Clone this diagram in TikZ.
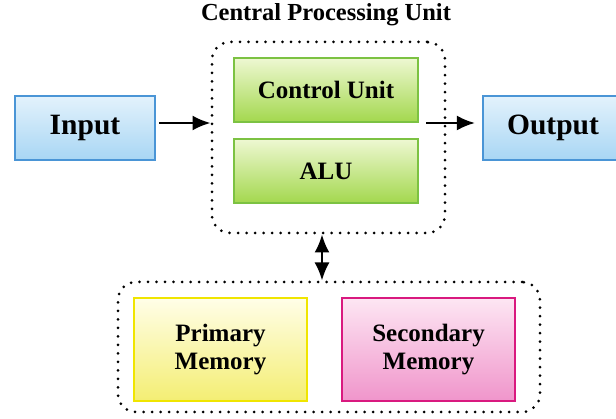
\documentclass[tikz,border=0pt]{standalone}
\usepackage{xcolor}
\usepackage{fontspec}
\setmainfont{Liberation Serif}
\usepackage{tikz}
\usetikzlibrary{arrows.meta}

\definecolor{blueTop}{HTML}{E3F2FC}
\definecolor{blueBot}{HTML}{A8D6F4}
\definecolor{blueLine}{HTML}{4A95D6}
\definecolor{greenTop}{HTML}{EEF8D2}
\definecolor{greenBot}{HTML}{A3D84E}
\definecolor{greenLine}{HTML}{7CC242}
\definecolor{yellowTop}{HTML}{FFFEE8}
\definecolor{yellowBot}{HTML}{F4EE73}
\definecolor{yellowLine}{HTML}{F0E500}
\definecolor{pinkTop}{HTML}{FDE6F3}
\definecolor{pinkBot}{HTML}{F095CB}
\definecolor{pinkLine}{HTML}{D9197F}

\tikzset{
  unitbox/.style={draw=#1Line,line width=2.2pt,top color=#1Top,bottom color=#1Bot,
    inner sep=0pt,font=\bfseries\fontsize{25}{27.5}\selectfont,align=center},
  groupbox/.style={draw,line width=3pt,line cap=round,dash pattern=on 0pt off 8.5pt,
    rounded corners=18pt,inner sep=0pt},
  tip/.tip={Latex[length=18pt,width=15pt]},
  flow/.style={line width=2.2pt,-tip},
}

\begin{document}
\begin{tikzpicture}[x={1pt},y={-1pt}]
\useasboundingbox (0,0) rectangle (616,419);
\node[anchor=base,font=\bfseries\fontsize{24.5}{27}\selectfont] (title) at (326,20.5) {Central Processing Unit};
\node[groupbox,minimum width=233pt,minimum height=191pt] (cpu) at (328.5,137.5) {};
\node[groupbox,minimum width=422pt,minimum height=130pt] (mem) at (329,347) {};
\node[unitbox=blue,minimum width=140pt,minimum height=64pt,font=\bfseries\fontsize{29.5}{32}\selectfont] (inp) at (85,128) {Input};
\node[unitbox=blue,minimum width=140pt,minimum height=64pt,font=\bfseries\fontsize{29.5}{32}\selectfont] (outp) at (553,128) {Output};
\node[unitbox=green,minimum width=184pt,minimum height=64pt] (cu) at (326,90) {Control Unit};
\node[unitbox=green,minimum width=184pt,minimum height=64pt] (alu) at (326,171) {ALU};
\node[unitbox=yellow,minimum width=173pt,minimum height=103pt] (prim) at (220.5,349.5) {Primary\\Memory};
\node[unitbox=pink,minimum width=173pt,minimum height=103pt] (sec) at (428.5,349.5) {Secondary\\Memory};

\coordinate (bus) at (322,0);
\draw[flow] ([xshift=3pt,yshift=5pt]inp.east) -- ([yshift=5pt]inp.east -| cpu.west);
\draw[flow] ([xshift=7pt,yshift=5pt]inp.east -| cu.east) -- ([xshift=-7pt,yshift=5pt]outp.west |- inp.east);
\draw[line width=2.2pt,tip-tip] (bus |- cpu.south) -- (bus |- mem.north);
\end{tikzpicture}
\end{document}
